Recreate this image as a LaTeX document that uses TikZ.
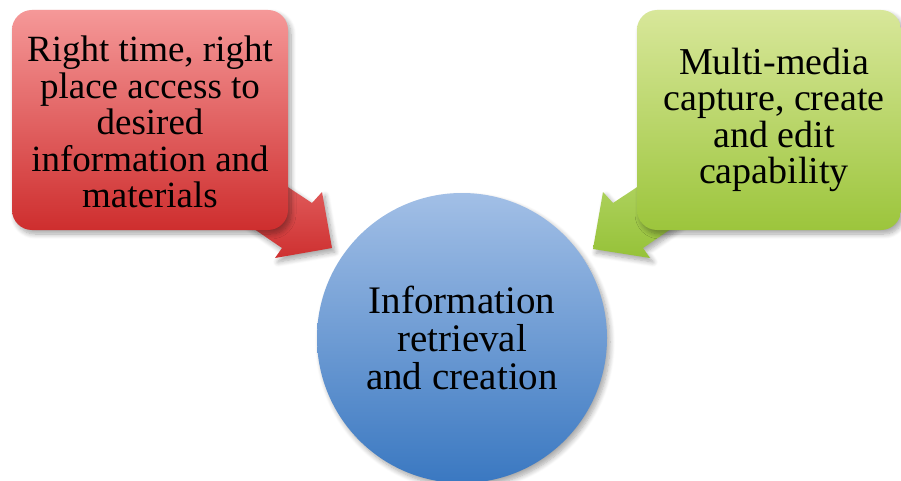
\documentclass[tikz,border=0pt]{standalone}
\usepackage{fontspec}
\setmainfont{Liberation Serif}
\usetikzlibrary{shadows.blur}
\definecolor{redtop}{RGB}{245,152,152}
\definecolor{redbot}{RGB}{206,46,46}
\definecolor{greentop}{RGB}{216,231,154}
\definecolor{greenbot}{RGB}{156,197,60}
\definecolor{bluetop}{RGB}{162,191,230}
\definecolor{bluebot}{RGB}{58,120,193}
\definecolor{redarrtop}{RGB}{228,100,100}
\definecolor{redarrbot}{RGB}{206,48,48}
\definecolor{greenarrtop}{RGB}{178,212,100}
\definecolor{greenarrbot}{RGB}{150,194,56}
\begin{document}
\begin{tikzpicture}[x=1pt,y=-1pt,
  softshadow/.style={blur shadow={shadow xshift=3pt,shadow yshift=-4pt,shadow blur steps=8,shadow opacity=35,shadow blur radius=5pt}},
  boxtxt/.style={font=\fontsize{38}{36.5}\selectfont,align=center,text=black,inner sep=0pt},
  sqbox/.style={rounded corners=20pt,inner sep=0pt,softshadow},
  blockarrow/.style={draw=none,softshadow}]
\useasboundingbox (0,0) rectangle (901,481);
% arrows (behind boxes)
\coordinate (rtip) at (332,248);
\coordinate (gtip) at (593,249);
\path[blockarrow,top color=redarrtop,bottom color=redarrbot]
  (262,170) -- (312,203) -- (322,192) -- (rtip) -- (275,258) -- (282,248) -- (238,218) -- cycle;
\path[blockarrow,top color=greenarrtop,bottom color=greenarrbot]
  (663,170) -- (613,203) -- (603,192) -- (gtip) -- (650,258) -- (643,248) -- (687,218) -- cycle;
% boxes
\node[sqbox,minimum width=276pt,minimum height=220pt,top color=redtop,bottom color=redbot] (red) at (150,120) {};
\node[boxtxt,font=\fontsize{37}{36.5}\selectfont] (redtext) at ([yshift=-2pt]red.center) {Right time, right\\place access to\\desired\\information and\\materials};
\node[sqbox,minimum width=264pt,minimum height=220pt,top color=greentop,bottom color=greenbot] (green) at (769,120) {};
\node[boxtxt] (greentext) at ([xshift=5pt]green.center) {Multi-media\\capture, create\\and edit\\capability};
% circle
\node[circle,minimum size=290pt,inner sep=0pt,top color=bluetop,bottom color=bluebot,softshadow] (circ) at (462,338) {};
\node[boxtxt,font=\fontsize{39}{38}\selectfont] (circtext) at (circ.center) {Information\\retrieval\\and creation};
\end{tikzpicture}
\end{document}
